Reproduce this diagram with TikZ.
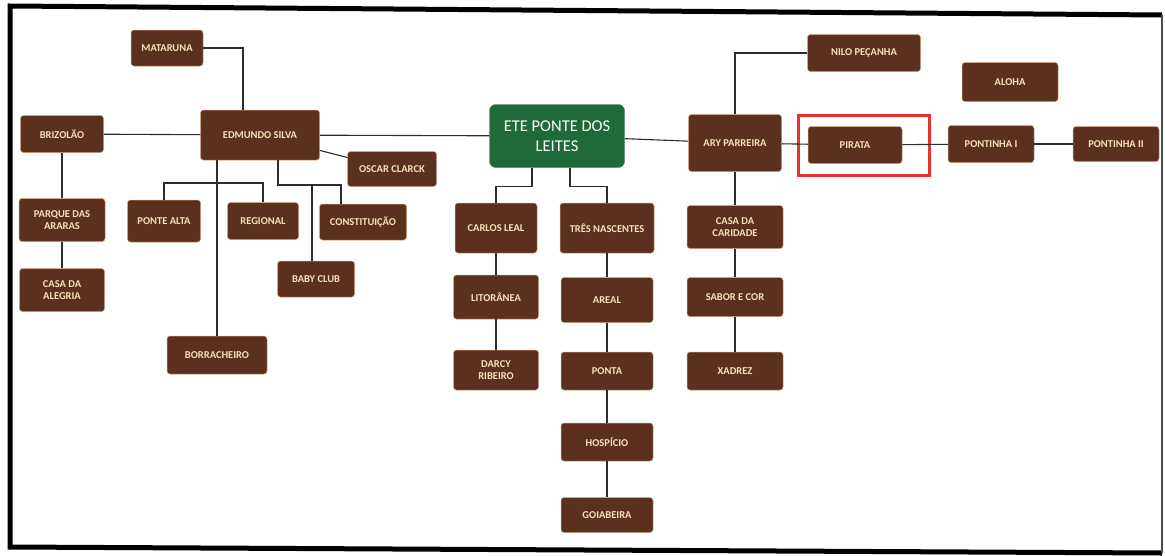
\documentclass[tikz,border=0pt]{standalone}
\usepackage{fontspec}
\setmainfont{Carlito}
\definecolor{caixa}{RGB}{92,48,31}
\definecolor{borda}{RGB}{205,160,120}
\definecolor{letra}{RGB}{246,226,184}
\definecolor{verde}{RGB}{30,106,56}
\definecolor{linha}{RGB}{45,45,45}
\definecolor{destaque}{RGB}{228,52,52}
\begin{document}
\begin{tikzpicture}[x=1pt,y=-1pt,
	bairro/.style={draw=borda,line width=0.5pt,fill=caixa,rounded corners=3pt,text=letra,
		font=\bfseries\fontsize{10.5}{12.5}\selectfont,align=center,inner sep=0pt},
	ete/.style={draw=verde!70!white,line width=0.5pt,fill=verde,rounded corners=6pt,text=white,
		font=\fontsize{16.5}{20}\selectfont,align=center,inner sep=0pt},
	liga/.style={draw=linha,line width=1.1pt}]
	\useasboundingbox (0,0) rectangle (1165,555);
	\fill[white] (0,0) rectangle (1165,555);
	
	% moldura
	\draw[line width=5pt,line join=miter] (1162,15) -- (10,6) -- (10,547) -- (1162,553);
	\draw[line width=1.2pt,black!70] (1162,15) -- (1162,553);
	
	% centro
	\node[ete,minimum width=135pt,minimum height=63pt] (ete) at (557,136) {ETE PONTE DOS\\LEITES};
	
	% lado esquerdo
	\node[bairro,minimum width=72pt,minimum height=36pt] (mataruna) at (167,48) {MATARUNA};
	\node[bairro,minimum width=119pt,minimum height=50pt] (edmundo) at (260,135) {EDMUNDO SILVA};
	\node[bairro,minimum width=83pt,minimum height=37pt] (brizolao) at (62,134) {BRIZOLÃO};
	\node[bairro,minimum width=89pt,minimum height=35pt] (oscar) at (392,169) {OSCAR CLARCK};
	\node[bairro,minimum width=86pt,minimum height=43pt] (parque) at (62,220) {PARQUE DAS\\ARARAS};
	\node[bairro,minimum width=85pt,minimum height=43pt] (alegria) at (62,290) {CASA DA\\ALEGRIA};
	\node[bairro,minimum width=73pt,minimum height=42pt] (pontealta) at (164,221) {PONTE ALTA};
	\node[bairro,minimum width=71pt,minimum height=37pt] (regional) at (263,221) {REGIONAL};
	\node[bairro,minimum width=87pt,minimum height=36pt] (constituicao) at (363,222) {CONSTITUIÇÃO};
	\node[bairro,minimum width=77pt,minimum height=36pt] (babyclub) at (316,279) {BABY CLUB};
	\node[bairro,minimum width=100pt,minimum height=38pt] (borracheiro) at (217,355) {BORRACHEIRO};
	
	% abaixo do centro
	\node[bairro,minimum width=82pt,minimum height=50pt] (carlos) at (496,228) {CARLOS LEAL};
	\node[bairro,minimum width=85pt,minimum height=44pt] (litoranea) at (496,297) {LITORÂNEA};
	\node[bairro,minimum width=85pt,minimum height=40pt] (darcy) at (496,370) {DARCY\\RIBEIRO};
	\node[bairro,minimum width=94pt,minimum height=50pt] (tres) at (607,228) {TRÊS NASCENTES};
	\node[bairro,minimum width=92pt,minimum height=45pt] (areal) at (607,300) {AREAL};
	\node[bairro,minimum width=92pt,minimum height=38pt] (ponta) at (607,371) {PONTA};
	\node[bairro,minimum width=92pt,minimum height=38pt] (hospicio) at (607,442) {HOSPÍCIO};
	\node[bairro,minimum width=92pt,minimum height=35pt] (goiabeira) at (607,515) {GOIABEIRA};
	
	% lado direito
	\node[bairro,minimum width=93pt,minimum height=57pt] (ary) at (735,143) {ARY PARREIRA};
	\node[bairro,minimum width=113pt,minimum height=37pt] (nilo) at (864,53) {NILO PEÇANHA};
	\node[bairro,minimum width=96pt,minimum height=39pt] (aloha) at (1010,82) {ALOHA};
	\node[bairro,minimum width=94pt,minimum height=37pt] (pirata) at (855,145) {PIRATA};
	\node[bairro,minimum width=86pt,minimum height=37pt] (pontinha1) at (991,144) {PONTINHA I};
	\node[bairro,minimum width=86pt,minimum height=35pt] (pontinha2) at (1116,144) {PONTINHA II};
	\node[bairro,minimum width=96pt,minimum height=43pt] (caridade) at (735,227) {CASA DA\\CARIDADE};
	\node[bairro,minimum width=96pt,minimum height=39pt] (sabor) at (735,297) {SABOR E COR};
	\node[bairro,minimum width=96pt,minimum height=38pt] (xadrez) at (735,371) {XADREZ};
	
	\draw[destaque,line width=3pt] (798,115) rectangle (929,175);
	
	% ligacoes
	\coordinate (e1) at (217,183);
	\coordinate (e2) at (341,185);
	\draw[liga] (brizolao) -- (edmundo);
	\draw[liga] (edmundo) -- (ete);
	\draw[liga] (ete) -- (ary);
	\draw[liga] (ary) -- (pirata);
	\draw[liga] (pirata) -- (pontinha1);
	\draw[liga] (pontinha1) -- (pontinha2);
	\draw[liga] (mataruna.east) -| ([xshift=-17pt]edmundo.north);
	\draw[liga] (edmundo) -- (oscar);
	\draw[liga] (brizolao) -- (parque);
	\draw[liga] (parque) -- (alegria);
	\draw[liga] ([xshift=-43pt]edmundo.south) -- (borracheiro.north);
	\draw[liga] (pontealta.north) |- (e1) -| (regional.north);
	\draw[liga] ([xshift=18pt]edmundo.south) |- (e2) -- ([xshift=-22pt]constituicao.north);
	\draw[liga] ([xshift=-4pt]babyclub.north) -- ([xshift=-4pt]babyclub.north |- e2);
	\draw[liga] ([xshift=-25pt]ete.south) -- ++(0,19) -| (carlos.north);
	\draw[liga] ([xshift=13pt]ete.south) -- ++(0,19) -| (tres.north);
	\draw[liga] (carlos) -- (litoranea);
	\draw[liga] (litoranea) -- (darcy);
	\draw[liga] (tres) -- (areal);
	\draw[liga] (areal) -- (ponta);
	\draw[liga] (ponta) -- (hospicio);
	\draw[liga] (hospicio) -- (goiabeira);
	\draw[liga] (ary.north) |- (nilo.west);
	\draw[liga] (ary) -- (caridade);
	\draw[liga] (caridade) -- (sabor);
	\draw[liga] (sabor) -- (xadrez);
\end{tikzpicture}
\end{document}
